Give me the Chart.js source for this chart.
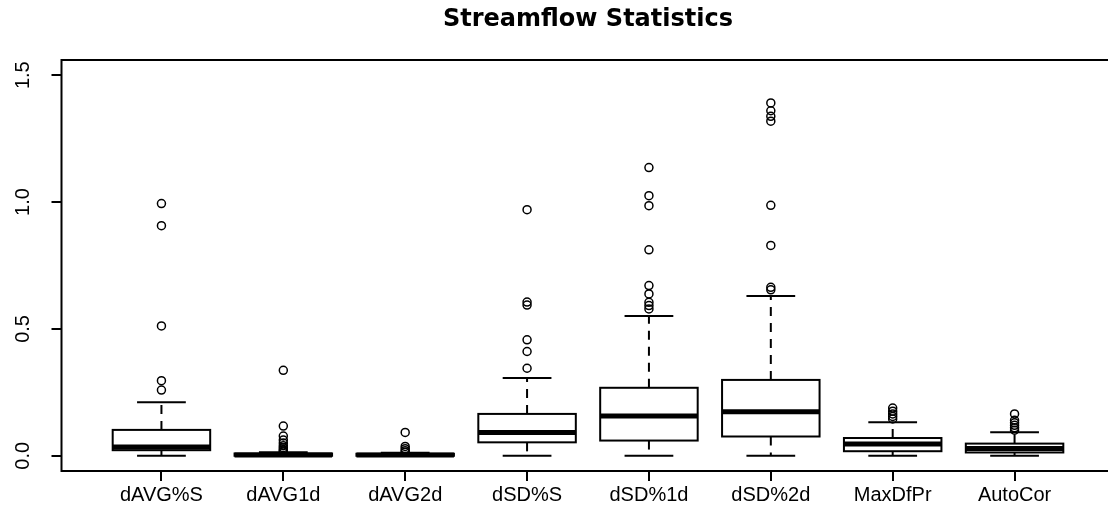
<!DOCTYPE html>
<html>
<head>
<meta charset="utf-8">
<title>Streamflow Statistics</title>
<script src="https://cdn.jsdelivr.net/npm/chart.js@4/dist/chart.umd.min.js"></script>
<style>
  html, body { margin: 0; padding: 0; background: #fff; overflow: hidden; }
  #wrap { width: 1108px; height: 523px; overflow: hidden; }
</style>
</head>
<body>
<div id="wrap"><canvas id="flowChart" width="1120" height="523"></canvas></div>
<script>
// summary stats per statistic (lower whisker, Q1, median, Q3, upper whisker)
const categories = ['dAVG%S', 'dAVG1d', 'dAVG2d', 'dSD%S', 'dSD%1d', 'dSD%2d', 'MaxDfPr', 'AutoCor'];
const whiskerLow = [0, 0, 0, 0, 0, 0, 0, 0];
const q1 = [0.022, 0.000, 0.000, 0.053, 0.060, 0.076, 0.018, 0.013];
const median = [0.035, 0.003, 0.003, 0.092, 0.157, 0.174, 0.046, 0.029];
const q3 = [0.102, 0.009, 0.008, 0.165, 0.268, 0.299, 0.070, 0.048];
const whiskerHigh = [0.211, 0.014, 0.012, 0.307, 0.551, 0.630, 0.132, 0.093];

// points beyond the whiskers
const outliers = [
  [0.994, 0.907, 0.512, 0.296, 0.259],
  [0.337, 0.117, 0.078, 0.062, 0.050, 0.040, 0.032, 0.025, 0.019, 0.015],
  [0.092, 0.037, 0.028, 0.020, 0.014],
  [0.970, 0.606, 0.594, 0.457, 0.411, 0.345],
  [1.136, 1.025, 0.986, 0.812, 0.671, 0.638, 0.605, 0.592, 0.579],
  [1.391, 1.360, 1.338, 1.319, 0.987, 0.829, 0.664, 0.654],
  [0.188, 0.176, 0.165, 0.155, 0.145],
  [0.165, 0.140, 0.130, 0.120, 0.110, 0.101]
];

const yTicks = [0, 0.5, 1.0, 1.5];
const yTickLabels = ['0.0', '0.5', '1.0', '1.5'];

const BOX_HALF = 0.4;
const CAP_HALF = 0.2;

const outlierPoints = [];
outliers.forEach((vals, i) => {
  vals.forEach(v => outlierPoints.push({ x: i + 1, y: v }));
});

function line(ctx, x1, y1, x2, y2) {
  ctx.beginPath();
  ctx.moveTo(x1, y1);
  ctx.lineTo(x2, y2);
  ctx.stroke();
}

const boxPlot = {
  id: 'boxPlot',
  beforeDatasetsDraw(chart) {
    const { ctx } = chart;
    const x = chart.scales.x;
    const y = chart.scales.y;
    ctx.save();
    ctx.strokeStyle = '#000';
    categories.forEach((name, i) => {
      const c = i + 1;
      const cx = x.getPixelForValue(c);
      const left = x.getPixelForValue(c - BOX_HALF);
      const right = x.getPixelForValue(c + BOX_HALF);
      const capL = x.getPixelForValue(c - CAP_HALF);
      const capR = x.getPixelForValue(c + CAP_HALF);
      const yLo = y.getPixelForValue(whiskerLow[i]);
      const yQ1 = y.getPixelForValue(q1[i]);
      const yMed = y.getPixelForValue(median[i]);
      const yQ3 = y.getPixelForValue(q3[i]);
      const yHi = y.getPixelForValue(whiskerHigh[i]);

      // dashed whiskers
      ctx.lineWidth = 2;
      ctx.setLineDash([9, 7]);
      line(ctx, cx, yQ3, cx, yHi);
      line(ctx, cx, yQ1, cx, yLo);
      ctx.setLineDash([]);

      // staples
      line(ctx, capL, yHi, capR, yHi);
      line(ctx, capL, yLo, capR, yLo);

      // box
      ctx.fillStyle = '#fff';
      ctx.fillRect(left, yQ3, right - left, yQ1 - yQ3);
      ctx.strokeRect(left, yQ3, right - left, yQ1 - yQ3);

      // median
      ctx.lineWidth = 5;
      line(ctx, left, yMed, right, yMed);
    });
    ctx.restore();
  },
  afterDraw(chart) {
    const { ctx, chartArea } = chart;
    const y = chart.scales.y;
    ctx.save();
    // frame round the plot
    ctx.strokeStyle = '#000';
    ctx.lineWidth = 2;
    ctx.strokeRect(chartArea.left, chartArea.top, chartArea.right - chartArea.left, chartArea.bottom - chartArea.top);

    // vertical tick labels on the y axis
    ctx.fillStyle = '#000';
    ctx.font = '20px "Liberation Sans", Arial, sans-serif';
    ctx.textAlign = 'center';
    ctx.textBaseline = 'middle';
    yTicks.forEach((v, i) => {
      ctx.save();
      ctx.translate(23, y.getPixelForValue(v));
      ctx.rotate(-Math.PI / 2);
      ctx.fillText(yTickLabels[i], 0, 0);
      ctx.restore();
    });
    ctx.restore();
  }
};

new Chart(document.getElementById('flowChart'), {
  type: 'scatter',
  data: {
    datasets: [{
      label: 'outliers',
      data: outlierPoints,
      pointStyle: 'circle',
      pointRadius: 4,
      pointBorderWidth: 1.5,
      pointBackgroundColor: 'rgba(0,0,0,0)',
      pointBorderColor: '#000',
      showLine: false
    }]
  },
  options: {
    responsive: false,
    animation: false,
    devicePixelRatio: 1,
    layout: { padding: { left: 0, right: 5, top: 0, bottom: 0 } },
    plugins: {
      legend: { display: false },
      tooltip: { enabled: false },
      title: {
        display: true,
        text: 'Streamflow Statistics',
        color: '#000',
        fullSize: false,
        font: { family: 'DejaVu Sans', size: 24, weight: 'bold', lineHeight: 1.2 },
        padding: { top: 5, bottom: 26.2 }
      }
    },
    scales: {
      x: {
        type: 'linear',
        min: 0.18,
        max: 8.82,
        afterBuildTicks: scale => {
          scale.ticks = categories.map((_, i) => ({ value: i + 1 }));
        },
        afterFit: scale => { scale.height = 52; },
        ticks: {
          color: '#000',
          padding: 2,
          maxRotation: 0,
          autoSkip: false,
          font: { family: 'Liberation Sans', size: 20 },
          callback: value => categories[value - 1]
        },
        grid: { drawOnChartArea: false, color: '#000', lineWidth: 2, tickLength: 10 },
        border: { display: false }
      },
      y: {
        type: 'linear',
        min: -0.06,
        max: 1.56,
        afterBuildTicks: scale => {
          scale.ticks = yTicks.map(v => ({ value: v }));
        },
        afterFit: scale => { scale.width = 61.5; },
        ticks: { display: false },
        grid: { drawOnChartArea: false, color: '#000', lineWidth: 2, tickLength: 10 },
        border: { display: false }
      }
    }
  },
  plugins: [boxPlot]
});
</script>
</body>
</html>
